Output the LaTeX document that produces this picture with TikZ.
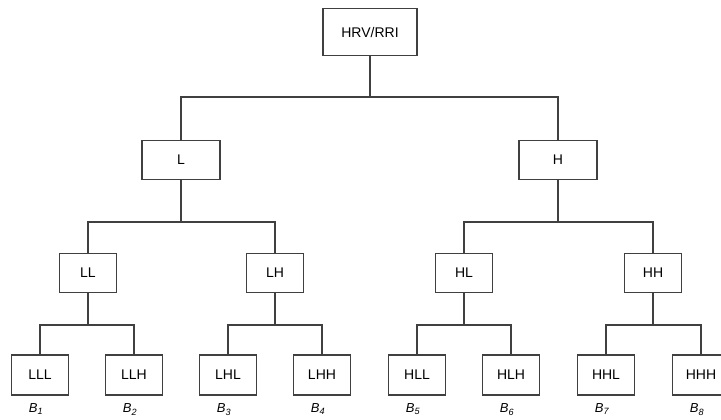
\documentclass[tikz,border=0pt]{standalone}
\usepackage{fontspec}
\setmainfont{Liberation Sans}
\usetikzlibrary{positioning}
\tikzstyle{band} = [rectangle, draw=black!75, line width=1.3pt, text centered, minimum width=57pt, minimum height=39pt, font=\fontsize{14}{16}\selectfont]
\tikzstyle{wideband} = [band, minimum width=78pt]
\tikzstyle{signal} = [band, minimum width=94pt, minimum height=47pt]
\tikzstyle{link} = [draw=black!75, line width=1.3pt]
\tikzstyle{coef} = [font=\fontsize{13}{15}\selectfont\itshape, inner sep=0pt]

\begin{document}
\begin{tikzpicture}[x=1pt, y=-1pt]
\useasboundingbox (0,0) rectangle (721,420);

\node (hrv) [signal] at (370,32) {HRV/RRI};
\node (l) [wideband] at (181,160) {L};
\node (h) [wideband] at (558,160) {H};
\node (ll) [band] at (88,273) {LL};
\node (lh) [band] at (275,273) {LH};
\node (hl) [band] at (464,273) {HL};
\node (hh) [band] at (653,273) {HH};
\node (lll) [band, minimum height=40pt] at (40,375) {LLL};
\node (llh) [band, minimum height=40pt] at (134,375) {LLH};
\node (lhl) [band, minimum height=40pt] at (228,375) {LHL};
\node (lhh) [band, minimum height=40pt] at (322,375) {LHH};
\node (hll) [band, minimum height=40pt] at (417,375) {HLL};
\node (hlh) [band, minimum height=40pt] at (511,375) {HLH};
\node (hhl) [band, minimum height=40pt] at (606,375) {HHL};
\node (hhh) [band, minimum height=40pt] at (701,375) {HHH};

% subband labels under the leaves
\foreach \leaf/\k in {lll/1, llh/2, lhl/3, lhh/4, hll/5, hlh/6, hhl/7, hhh/8}
  \node (b\k) [coef, below=8pt of \leaf, xshift=-4pt] {B\textsubscript{\k}};

% forks between levels
\coordinate (f0) at (370,97);
\coordinate (f1) at (181,222);
\coordinate (f2) at (558,222);
\coordinate (f3) at (88,325);
\coordinate (f4) at (275,325);
\coordinate (f5) at (464,325);
\coordinate (f6) at (653,325);

\draw [link] (hrv) -- (f0);
\draw [link] (f0) -| (l);
\draw [link] (f0) -| (h);
\draw [link] (l) -- (f1);
\draw [link] (f1) -| (ll);
\draw [link] (f1) -| (lh);
\draw [link] (h) -- (f2);
\draw [link] (f2) -| (hl);
\draw [link] (f2) -| (hh);
\draw [link] (ll) -- (f3);
\draw [link] (f3) -| (lll);
\draw [link] (f3) -| (llh);
\draw [link] (lh) -- (f4);
\draw [link] (f4) -| (lhl);
\draw [link] (f4) -| (lhh);
\draw [link] (hl) -- (f5);
\draw [link] (f5) -| (hll);
\draw [link] (f5) -| (hlh);
\draw [link] (hh) -- (f6);
\draw [link] (f6) -| (hhl);
\draw [link] (f6) -| (hhh);

\end{tikzpicture}
\end{document}
